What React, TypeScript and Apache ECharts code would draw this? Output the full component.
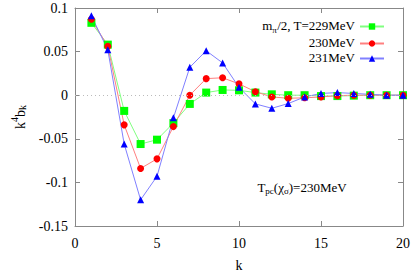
import React, { useEffect, useRef } from "react";
import * as echarts from "echarts";

const kValues = [1, 2, 3, 4, 5, 6, 7, 8, 9, 10, 11, 12, 13, 14, 15, 16, 17, 18, 19, 20];
const green229 = [0.083, 0.058, -0.018, -0.056, -0.051, -0.032, -0.010, 0.003, 0.006, 0.0056, 0.003, 0.001, 0.0, 0.0, -0.001, -0.001, -0.0005, 0.0, 0.0, 0.0];
const red230 = [0.087, 0.056, -0.034, -0.084, -0.073, -0.036, 0.0, 0.019, 0.020, 0.013, 0.004, -0.002, -0.0035, -0.003, -0.002, -0.0005, 0.0, 0.0, 0.0, 0.0];
const blue231 = [0.091, 0.052, -0.056, -0.120, -0.093, -0.026, 0.032, 0.051, 0.037, 0.009, -0.010, -0.015, -0.0096, -0.002, 0.002, 0.003, 0.002, 0.001, 0.0, 0.0];
const seriesNames = ["m_pi/2, T=229MeV", "230MeV", "231MeV"];

const FONT = "Liberation Serif";

export default function App() {
  const ref = useRef<HTMLDivElement>(null);
  useEffect(() => {
    if (!ref.current) return;
    const chart = echarts.init(ref.current, null, { renderer: "svg" });
    const pair = (arr: number[]) => kValues.map((k, i) => [k, arr[i]]);
    const axisColor = "#888888";
    const baseX = {
      type: "value",
      min: 0,
      max: 20,
      interval: 5,
      axisLine: { show: true, onZero: false, lineStyle: { color: axisColor, width: 1 } },
      axisTick: { show: true, inside: true, length: 5, lineStyle: { color: axisColor } },
      splitLine: { show: false },
    };
    const baseY = {
      type: "value",
      min: -0.15,
      max: 0.1,
      interval: 0.05,
      axisLine: { show: true, onZero: false, lineStyle: { color: axisColor, width: 1 } },
      axisTick: { show: true, inside: true, length: 5, lineStyle: { color: axisColor } },
      splitLine: { show: false },
    };
    const labelStyle = { fontFamily: FONT, fontSize: 14, color: "#000" };
    const mkSeries = (name: string, data: number[], color: string, lineColor: string, symbol: string, size: number) => ({
      name,
      type: "line",
      data: pair(data),
      symbol,
      symbolSize: size,
      itemStyle: { color },
      lineStyle: { color: lineColor, width: 1 },
      emphasis: { disabled: true },
    });
    chart.setOption({
      animation: false,
      textStyle: { fontFamily: FONT },
      grid: { left: 75, right: 12, top: 8, bottom: 50 },
      xAxis: [
        {
          ...baseX,
          position: "bottom",
          axisLabel: { ...labelStyle, margin: 10 },
          name: "k",
          nameLocation: "middle",
          nameGap: 32,
          nameTextStyle: { fontFamily: FONT, fontSize: 14, color: "#000" },
        },
        { ...baseX, position: "top", axisLabel: { show: false } },
      ],
      yAxis: [
        {
          ...baseY,
          position: "left",
          axisLabel: {
            ...labelStyle,
            margin: 7,
            formatter: (v: number) => String(Math.round(v * 100) / 100),
          },
          name: "{n|k}{sup|4}{n|b}{sub|k}",
          nameLocation: "middle",
          nameGap: 46,
          nameRotate: 90,
          nameTextStyle: {
            fontFamily: FONT,
            fontSize: 14,
            color: "#000",
            rich: {
              n: { fontFamily: FONT, fontSize: 14, color: "#000", verticalAlign: "bottom", lineHeight: 18 },
              sup: { fontFamily: FONT, fontSize: 10, color: "#000", verticalAlign: "top", lineHeight: 18 },
              sub: { fontFamily: FONT, fontSize: 10, color: "#000", verticalAlign: "bottom", lineHeight: 13 },
            },
          },
        },
        { ...baseY, position: "right", axisLabel: { show: false } },
      ],
      legend: {
        orient: "vertical",
        right: 25,
        top: 14,
        align: "right",
        itemWidth: 24,
        itemHeight: 8,
        itemGap: 2,
        selectedMode: false,
        data: seriesNames,
        formatter: (name: string) => {
          if (name === seriesNames[0]) return "{n|m}{s|π}{n|/2, T=229MeV}";
          return "{n|" + name + "}";
        },
        textStyle: {
          fontFamily: FONT,
          fontSize: 13,
          color: "#000",
          rich: {
            n: { fontFamily: FONT, fontSize: 13, color: "#000", verticalAlign: "top", lineHeight: 15 },
            s: { fontFamily: FONT, fontSize: 9, color: "#000", verticalAlign: "bottom", lineHeight: 15, padding: [6, 0, 0, 0] },
          },
        },
      },
      graphic: [
        {
          type: "text",
          x: 302,
          y: 188,
          style: {
            text: "{n|T}{s|pc}{n|(χ}{s|σ}{n|)=230MeV}",
            align: "center",
            verticalAlign: "middle",
            rich: {
              n: { fontFamily: FONT, fontSize: 13, fill: "#000", verticalAlign: "top", lineHeight: 15 },
              s: { fontFamily: FONT, fontSize: 9, fill: "#000", verticalAlign: "bottom", lineHeight: 15, padding: [6, 0, 0, 0] },
            },
          },
        },
      ],
      series: [
        {
          ...mkSeries(seriesNames[0], green229, "#00ff00", "#80ff80", "rect", 8),
          markLine: {
            silent: true,
            symbol: "none",
            label: { show: false },
            lineStyle: { color: "#bbbbbb", type: [1, 3], width: 1 },
            data: [{ yAxis: 0 }],
          },
        },
        mkSeries(seriesNames[1], red230, "#ff0000", "#ff8080", "circle", 7),
        mkSeries(seriesNames[2], blue231, "#0000ff", "#8080ff", "triangle", 7),
      ],
    });
    return () => chart.dispose();
  }, []);
  return <div ref={ref} style={{ width: 415, height: 277, position: "absolute", left: 0, top: 0 }} />;
}
